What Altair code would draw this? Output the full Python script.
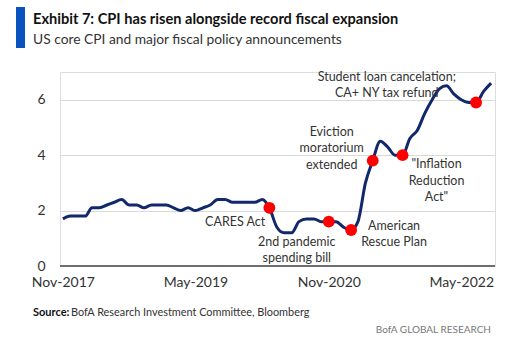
import altair as alt
import pandas as pd

# ---- data ----
months = pd.date_range("2017-11-01", "2022-09-01", freq="MS").strftime("%Y-%m-%d").tolist()
core_cpi = [1.7, 1.8, 1.8, 1.8, 2.1, 2.1, 2.2, 2.3, 2.4, 2.2, 2.2, 2.1,
            2.2, 2.2, 2.2, 2.1, 2.0, 2.1, 2.0, 2.1, 2.2, 2.4, 2.4, 2.3,
            2.3, 2.3, 2.3, 2.4, 2.1, 1.4, 1.2, 1.2, 1.6, 1.7, 1.7, 1.6,
            1.6, 1.6, 1.4, 1.3, 1.6, 3.0, 3.8, 4.5, 4.3, 4.0, 4.0, 4.6,
            4.9, 5.5, 6.0, 6.4, 6.5, 6.2, 6.0, 5.9, 5.9, 6.3, 6.6]

event_dates = ["2020-03-01", "2020-11-01", "2021-02-01", "2021-05-01", "2021-09-01", "2022-07-01"]
event_values = [2.1, 1.6, 1.3, 3.8, 4.0, 5.9]

# annotation anchors: position of each label's first line
label_texts = ["CARES Act", "2nd pandemic\nspending bill", "American\nRescue Plan",
               "Eviction\nmoratorium\nextended", "\"Inflation\nReduction\nAct\"",
               "Student loan cancelation;\nCA+ NY tax refund"]
label_dates = ["2020-02-13", "2020-06-22", "2021-07-28", "2020-11-13", "2022-01-19", "2021-06-28"]
label_values = [1.60, 0.88, 1.45, 4.85, 3.67, 6.83]
label_align = ["right", "center", "center", "center", "center", "center"]

tick_dates = ["2017-11-01", "2019-05-01", "2020-11-01", "2022-05-01"]

FONT = "Lato"

line_df = pd.DataFrame({"date": months, "cpi": core_cpi})
ev_df = pd.DataFrame({"date": event_dates, "cpi": event_values})
lab_df = pd.DataFrame({"date": label_dates, "cpi": label_values,
                       "text": label_texts, "align": label_align})

W, H = 435, 194
xscale = alt.Scale(domain=[alt.DateTime(year=2017, month=10, date=20),
                           alt.DateTime(year=2022, month=9, date=17)])
yscale = alt.Scale(domain=[0, 7])

xaxis = alt.Axis(values=[alt.DateTime(year=int(d[:4]), month=int(d[5:7]), date=1) for d in tick_dates],
                 format="%b-%Y", title=None, grid=False, ticks=False, domain=False,
                 labelFont=FONT, labelFontSize=14, labelColor="#333333", labelPadding=9,
                 labelAlign="center", labelOverlap=False)
yaxis = alt.Axis(values=[0, 2, 4, 6], title=None, ticks=False, domain=False,
                 grid=True, gridColor="#d9d9d9", gridWidth=1,
                 labelFont=FONT, labelFontSize=14, labelColor="#333333", labelPadding=15)

base = alt.Chart(line_df)

line = base.mark_line(color="#11296b", strokeWidth=3, interpolate="monotone").encode(
    x=alt.X("date:T", scale=xscale, axis=xaxis),
    y=alt.Y("cpi:Q", scale=yscale, axis=yaxis),
)

zero = alt.Chart(pd.DataFrame({"y": [0]})).mark_rule(color="#6e6e6e", strokeWidth=2).encode(
    y=alt.Y("y:Q", scale=yscale), x=alt.value(0), x2=alt.value(W))

points = alt.Chart(ev_df).mark_point(filled=True, shape="circle", size=140, color="#ff0000", opacity=1).encode(
    x="date:T", y="cpi:Q")

labels_c = alt.Chart(lab_df[lab_df["align"] == "center"]).mark_text(
    font=FONT, fontSize=12.5, color="#333333", align="center", baseline="middle",
    lineBreak="\n", lineHeight=16.5).encode(x="date:T", y="cpi:Q", text="text:N")
labels_r = alt.Chart(lab_df[lab_df["align"] == "right"]).mark_text(
    font=FONT, fontSize=12.5, color="#333333", align="right", baseline="middle",
    lineBreak="\n", lineHeight=16.5).encode(x="date:T", y="cpi:Q", text="text:N")

# header / footer decorations (pixel positions relative to plot origin at 60,72)
bar = alt.Chart(pd.DataFrame({"a": [0]})).mark_rect(color="#0a53be").encode(
    x=alt.value(16 - 60), x2=alt.value(25 - 60), y=alt.value(7 - 72), y2=alt.value(48 - 72))

title = alt.Chart(pd.DataFrame({"t": ["Exhibit 7: CPI has risen alongside record fiscal expansion"]})).mark_text(
    font=FONT, fontSize=14.6, fontWeight="bold", color="#111111", align="left", baseline="middle").encode(
    x=alt.value(33 - 60), y=alt.value(20 - 72), text="t:N")
subtitle = alt.Chart(pd.DataFrame({"t": ["US core CPI and major fiscal policy announcements"]})).mark_text(
    font=FONT, fontSize=13.8, color="#333333", align="left", baseline="middle").encode(
    x=alt.value(33 - 60), y=alt.value(40 - 72), text="t:N")
source_b = alt.Chart(pd.DataFrame({"t": ["Source:"]})).mark_text(
    font=FONT, fontSize=11, fontWeight="bold", color="#111111", align="left", baseline="middle").encode(
    x=alt.value(33 - 60), y=alt.value(313 - 72), text="t:N")
source_t = alt.Chart(pd.DataFrame({"t": ["BofA Research Investment Committee, Bloomberg"]})).mark_text(
    font=FONT, fontSize=10.9, color="#333333", align="left", baseline="middle").encode(
    x=alt.value(71 - 60), y=alt.value(313 - 72), text="t:N")
brand = alt.Chart(pd.DataFrame({"t": ["BofA GLOBAL RESEARCH"]})).mark_text(
    font=FONT, fontSize=10, color="#777777", align="right", baseline="middle").encode(
    x=alt.value(491 - 60), y=alt.value(330 - 72), text="t:N")

chart = alt.layer(line, zero, points, labels_c, labels_r, bar, title, subtitle,
                  source_b, source_t, brand).properties(
    width=W, height=H,
    autosize=alt.AutoSizeParams(type="none"),
    padding={"left": 60, "top": 72, "right": 20, "bottom": 87},
).configure_view(stroke=None).configure(background="white")

chart.save("out.html", embed_options={"renderer": "svg", "actions": False})
